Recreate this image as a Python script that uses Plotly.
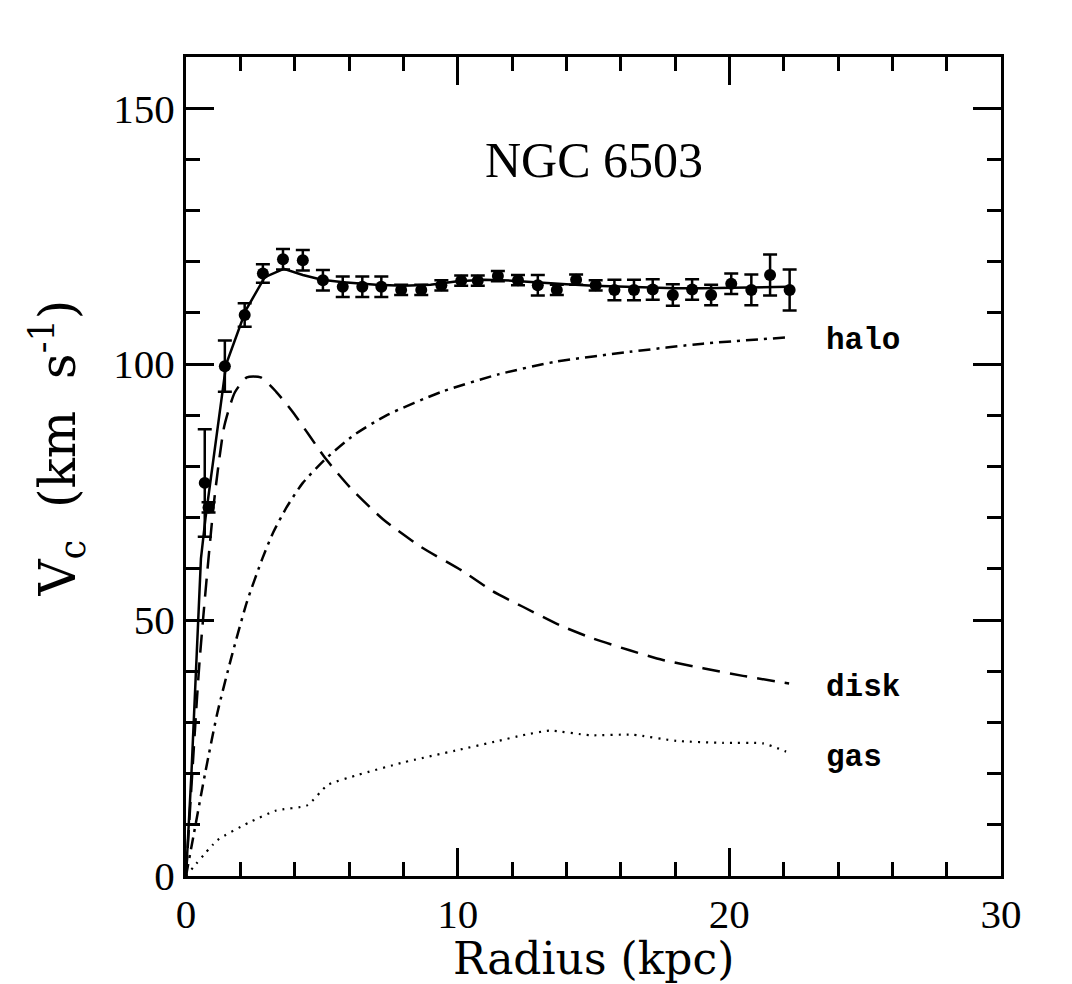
import plotly.graph_objects as go

# observed rotation curve of NGC 6503
radius = [0.69, 0.83, 1.43, 2.16, 2.83, 3.57, 4.30, 5.04, 5.77, 6.49, 7.19, 7.92, 8.66, 9.40,
          10.13, 10.74, 11.48, 12.22, 12.95, 13.65, 14.36, 15.08, 15.77, 16.49, 17.18, 17.92,
          18.63, 19.33, 20.07, 20.81, 21.50, 22.22]
vel = [76.8, 72.0, 99.6, 109.6, 117.7, 120.5, 120.3, 116.4, 115.1, 115.1, 115.1, 114.5, 114.5, 115.4,
       116.3, 116.3, 117.2, 116.4, 115.4, 114.5, 116.5, 115.4, 114.5, 114.5, 114.6, 113.5,
       114.6, 113.5, 115.7, 114.5, 117.4, 114.5]
err = [10.5, 1.0, 5.0, 2.3, 1.8, 2.0, 2.0, 2.0, 2.0, 2.0, 2.0, 1.0, 1.0, 1.0,
       1.0, 1.0, 1.0, 1.0, 2.0, 1.0, 1.0, 1.0, 2.0, 2.0, 2.0, 2.1,
       2.0, 2.0, 2.0, 3.0, 4.0, 4.0]

# model components
total_r = [0, 0.2, 0.55, 0.72, 1.48, 2.2, 2.9, 3.6, 4.3, 5.0, 5.8, 7.0, 8.0, 9.0, 10.0, 11.0,
           12.0, 13.0, 14.0, 15.0, 16.0, 17.0, 18.0, 19.0, 20.0, 21.0, 22.2]
total_v = [0, 20, 62, 70, 100, 110.5, 117, 118.6, 117.4, 116.5, 116, 115.5, 115.3, 115.5, 116.2, 116.5,
           116.3, 115.9, 115.6, 115.3, 115.1, 114.9, 114.8, 114.8, 114.9, 115.0, 115.1]

disk_r = [0, 0.5, 1.03, 1.41, 1.8, 2.24, 2.75, 3.32, 3.95, 5.16, 6.11, 7.25, 8.65, 10.17, 11.3,
          12.4, 13.75, 14.98, 16.33, 17.55, 19.03, 20.5, 22.2]
disk_v = [0, 42, 73, 87.9, 94.5, 97.4, 97.4, 94.6, 90.5, 81.4, 75.5, 69.7, 64.3, 59.6, 55.6,
          52.6, 49.0, 46.4, 44.1, 42.2, 40.6, 39.1, 37.6]

halo_r = [0, 0.27, 0.72, 1.16, 1.67, 2.24, 2.81, 3.2, 3.7, 4.3, 5.16, 6.2, 7.38, 9.41, 11.5,
          13.63, 16.33, 19.03, 22.09]
halo_v = [0, 7.7, 20.5, 32, 42.7, 53.5, 62.0, 67.0, 72.0, 76.8, 81.6, 86.2, 90.0, 94.6, 98.0,
          100.5, 102.4, 104.0, 105.2]

gas_r = [0, 1.16, 2.30, 3.32, 4.46, 5.22, 6.36, 8.01, 9.92, 11.5, 12.4, 13.38, 14.86, 16.45,
         18.05, 19.76, 21.24, 22.09]
gas_v = [0, 7.0, 10.4, 12.8, 13.8, 17.8, 19.8, 22.2, 24.5, 26.4, 27.5, 28.4, 27.5, 27.6,
         26.4, 26.0, 25.9, 24.3]

fig = go.Figure()
fig.add_trace(go.Scatter(x=total_r, y=total_v, mode='lines', line=dict(color='black', width=2.5)))
fig.add_trace(go.Scatter(x=disk_r, y=disk_v, mode='lines',
                         line=dict(color='black', width=2.5, dash='18px,10px', shape='spline', smoothing=0.6)))
fig.add_trace(go.Scatter(x=halo_r, y=halo_v, mode='lines',
                         line=dict(color='black', width=2.5, dash='12px,6px,3px,6px', shape='spline', smoothing=0.6)))
fig.add_trace(go.Scatter(x=gas_r, y=gas_v, mode='lines',
                         line=dict(color='black', width=2.2, dash='2px,6px', shape='spline', smoothing=0.5)))
fig.add_trace(go.Scatter(x=radius, y=vel, mode='markers',
                         marker=dict(color='black', size=12, symbol='circle'),
                         error_y=dict(type='data', array=err, color='black', thickness=2.5, width=7)))

fig.add_annotation(x=15.0, y=139.8, text='NGC 6503', showarrow=False,
                   font=dict(family='Liberation Serif', size=50, color='black'))
for lab, yy in [('halo', 104.7), ('disk', 36.9), ('gas', 23.2)]:
    fig.add_annotation(x=23.5, y=yy, text='<b>' + lab + '</b>', showarrow=False, xanchor='left',
                       font=dict(family='Liberation Mono', size=31, color='black'))

# axis titles
fig.add_annotation(x=0.5, y=0, xref='paper', yref='paper', yanchor='middle', yshift=-82,
                   text='Radius (kpc)', showarrow=False,
                   font=dict(family='DejaVu Serif', size=44, color='black'))
fig.add_annotation(x=0, y=0.5, xref='paper', yref='paper', xanchor='center', xshift=-129, yshift=18,
                   text='V<sub>c</sub>  (km  s<sup>-1</sup>)', showarrow=False, textangle=-90,
                   font=dict(family='DejaVu Serif', size=50, color='black'))

fig.update_layout(
    width=1064, height=976,
    margin=dict(l=178, r=71, t=49, b=108),
    paper_bgcolor='white', plot_bgcolor='white',
    showlegend=False,
    font=dict(family='Liberation Serif', size=41, color='black'),
)
fig.update_xaxes(range=[0, 30], tickvals=[0, 10, 20, 30], ticks='inside', ticklen=28, tickwidth=2.5,
                 tickcolor='black', showgrid=False, zeroline=False, showline=True, linecolor='black',
                 linewidth=3, mirror='ticks',
                 minor=dict(dtick=2, ticks='inside', ticklen=14, tickwidth=2.5, tickcolor='black'))
fig.update_yaxes(range=[0, 160], tickvals=[0, 50, 100, 150], ticks='inside', ticklen=28, tickwidth=2.5,
                 tickcolor='black', showgrid=False, zeroline=False, showline=True, linecolor='black',
                 linewidth=3, mirror='ticks',
                 minor=dict(dtick=10, ticks='inside', ticklen=14, tickwidth=2.5, tickcolor='black'))

fig.write_html("out.html")
